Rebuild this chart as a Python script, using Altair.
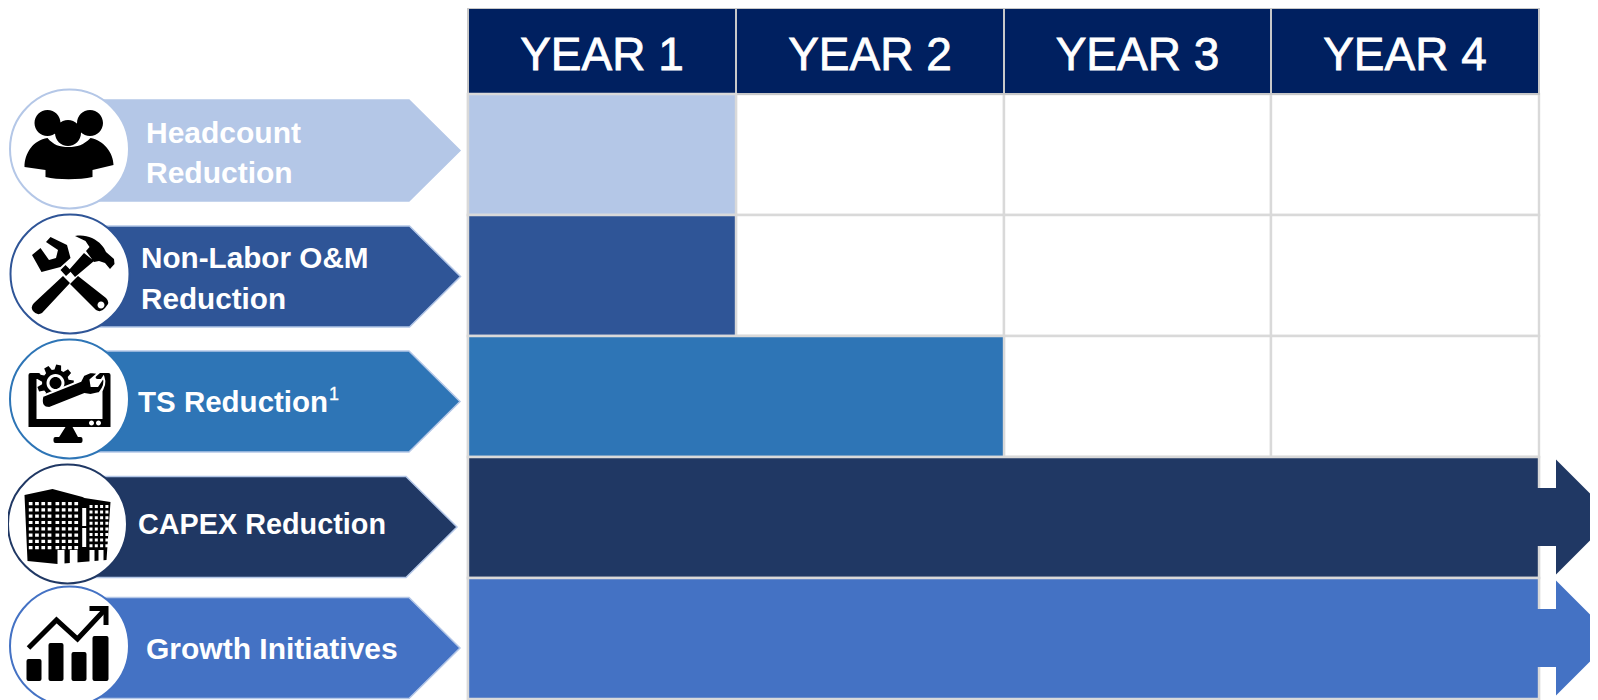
import math
import altair as alt
import pandas as pd

# ---- chart content ----
years = ["YEAR 1", "YEAR 2", "YEAR 3", "YEAR 4"]
categories = ["Headcount Reduction", "Non-Labor O&M Reduction", "TS Reduction",
              "CAPEX Reduction", "Growth Initiatives"]
label_lines = [["Headcount", "Reduction"], ["Non-Labor O&M", "Reduction"], ["TS Reduction"],
               ["CAPEX Reduction"], ["Growth Initiatives"]]
years_covered = [1, 1, 2, 4, 4]
continues = [False, False, False, True, True]
colors = ["#B4C7E7", "#2F5597", "#2E75B6", "#203864", "#4472C4"]

# ---- layout ----
FONT = "Liberation Sans"
col_x = [468, 736, 1004, 1271, 1539]
row_y = [94, 215, 336, 457, 578, 699]
HEAD_TOP = 8
circle_xy = [(69.5, 149), (70, 274), (69.5, 399), (67.5, 524), (69.5, 646)]
chev_anchor = [(69, 150.5), (69.5, 276.5), (69, 401.5), (66, 527), (69, 648)]
label_x = [146, 141, 138, 138, 146]
label_base = [[143, 183], [268, 309], [412], [534], [659]]
label_size = [30, 29.7, 29.5, 28.8, 30]

SX = alt.Scale(domain=[8, 1590], nice=False, zero=False)
SY = alt.Scale(domain=[700, 8], nice=False, zero=False)
X = alt.X("x:Q", axis=None, scale=SX)
Y = alt.Y("y:Q", axis=None, scale=SY)
X2 = alt.X2("x2:Q")
Y2 = alt.Y2("y2:Q")
cat_fill = alt.Fill("cat:N", legend=None, scale=alt.Scale(domain=categories, range=colors))
cat_stroke = alt.Stroke("cat:N", legend=None, scale=alt.Scale(domain=categories, range=colors))

layers = []

# table cells
cells = pd.DataFrame([
    {"x": col_x[c], "x2": col_x[c + 1], "y": row_y[r], "y2": row_y[r + 1]}
    for r in range(5) for c in range(4)
])
layers.append(alt.Chart(cells).mark_rect(fill="white", stroke="#D9D9D9", strokeWidth=2.4)
              .encode(x=X, x2=X2, y=Y, y2=Y2))

# header
head = pd.DataFrame({
    "x": col_x[:-1], "x2": col_x[1:], "y": [HEAD_TOP] * 4, "y2": [row_y[0]] * 4, "t": years,
    "xc": [(a + b) / 2 for a, b in zip(col_x[:-1], col_x[1:])], "yb": [70] * 4,
})
layers.append(alt.Chart(head).mark_rect(fill="#002060", stroke="#C8C8C8", strokeWidth=2)
              .encode(x=X, x2=X2, y=Y, y2=Y2))
layers.append(alt.Chart(head).mark_text(font=FONT, fontSize=46, color="white", align="center",
                                        baseline="alphabetic", stroke="white", strokeWidth=0.8)
              .encode(x=alt.X("xc:Q", axis=None, scale=SX), y=alt.Y("yb:Q", axis=None, scale=SY), text="t:N"))

# coverage bars
bars = pd.DataFrame({
    "cat": categories,
    "x": [col_x[0]] * 5,
    "x2": [col_x[n] for n in years_covered],
    "y": row_y[:-1],
    "y2": row_y[1:],
})
layers.append(alt.Chart(bars).mark_rect(stroke="#D9D9D9", strokeWidth=2.4)
              .encode(x=X, x2=X2, y=Y, y2=Y2, fill=cat_fill))

# continuation arrow heads
arrow_path = "M-3,-29 H17 V-57.5 L74.5,0 L17,57.5 V29 H-3 Z"
arrows = pd.DataFrame([
    {"cat": categories[i], "x": col_x[4], "y": (row_y[i] + row_y[i + 1]) / 2 - 0.5}
    for i in range(5) if continues[i]
])
layers.append(alt.Chart(arrows).mark_point(shape=arrow_path, size=4, filled=True, opacity=1, strokeWidth=0)
              .encode(x=X, y=Y, fill=cat_fill))

# chevrons
chev_path = "M0,-50.5 H340 L391,0 L340,50.5 H0 Z"
chev = pd.DataFrame({"cat": categories, "x": [a[0] for a in chev_anchor], "y": [a[1] for a in chev_anchor]})
layers.append(alt.Chart(chev).mark_point(shape=chev_path, size=4, filled=True, opacity=1,
                                         stroke="#B4C7E7", strokeWidth=1.5)
              .encode(x=X, y=Y, fill=cat_fill))

# circles
circ = pd.DataFrame({"cat": categories, "x": [a[0] for a in circle_xy], "y": [a[1] for a in circle_xy]})
layers.append(alt.Chart(circ).mark_point(shape="circle", size=119 ** 2, filled=True, opacity=1,
                                         fill="white", strokeWidth=2)
              .encode(x=X, y=Y, stroke=cat_stroke))

# labels
lab = pd.DataFrame([
    {"t": line, "x": label_x[i], "y": label_base[i][j], "fs": label_size[i]}
    for i, lines in enumerate(label_lines) for j, line in enumerate(lines)
])
layers.append(alt.Chart(lab).mark_text(font=FONT, fontWeight="bold", color="white", align="left",
                                       baseline="alphabetic")
              .encode(x=X, y=Y, text="t:N", size=alt.Size("fs:Q", scale=None)))
sup = pd.DataFrame({"t": ["1"], "x": [329], "y": [400]})
layers.append(alt.Chart(sup).mark_text(font=FONT, fontSize=18, color="white", align="left",
                                       baseline="alphabetic", stroke="white", strokeWidth=0.3)
              .encode(x=X, y=Y, text="t:N"))


# ---- icons: paths are relative to the circle centre, 1 unit = 1 px at size 4 ----
def ring(cx, cy, r):
    return f"M{cx - r},{cy} a{r},{r} 0 1,0 {2 * r},0 a{r},{r} 0 1,0 {-2 * r},0 Z "


def rect(x0, y0, x1, y1):
    return f"M{x0:.1f},{y0:.1f} H{x1:.1f} V{y1:.1f} H{x0:.1f} Z "


def rrect(x0, y0, x1, y1, r=2):
    return (f"M{x0 + r},{y0} H{x1 - r} Q{x1},{y0} {x1},{y0 + r} V{y1 - r} Q{x1},{y1} {x1 - r},{y1} "
            f"H{x0 + r} Q{x0},{y1} {x0},{y1 - r} V{y0 + r} Q{x0},{y0} {x0 + r},{y0} Z ")


def poly(*pts):
    return "M" + " L".join(f"{a},{b}" for a, b in pts) + " Z "


def gear(cx, cy, r0, r1, n):
    pts = []
    for k in range(n):
        a = 2 * math.pi * k / n
        w = math.pi / n * 0.55
        pts += [(a - w * 1.3, r0), (a - w * 0.7, r1), (a + w * 0.7, r1), (a + w * 1.3, r0)]
    return poly(*[(round(cx + r * math.cos(a), 1), round(cy + r * math.sin(a), 1)) for a, r in pts])


def icon(i, path, fill="black", stroke=None, sw=0, filled=True):
    d = pd.DataFrame({"x": [circle_xy[i][0]], "y": [circle_xy[i][1]]})
    kw = dict(shape=path, size=4, opacity=1, strokeWidth=sw, filled=filled)
    if filled:
        kw["fill"] = fill
    if stroke:
        kw["stroke"] = stroke
    layers.append(alt.Chart(d).mark_point(**kw).encode(x=X, y=Y))


# people
icon(0, ring(-22, -26, 13) + ring(20.5, -26, 13) + ring(-1.5, -16, 13) +
     "M-45,18 C-45,4 -36,-9 -22,-11 C-16,-4 -10,-2 -1,-2 C8,-2 14,-4 21,-11 C34,-9 44,4 44,16 "
     "L23,21 V28 C10,31 -12,31 -24,28 V21 Z")

# tools
icon(1, "M5,-38 C12,-39 17,-38 22,-36 C30,-32 34,-27 36,-22 L44,-15 L44.5,-10 L40,-5 L35,-11 L29,-13 L24,-12 "
        "L16,-23 L19.5,-27 L15.5,-33 Z "
        "M14,-21 L24,-13 L5,3 L-1,-4 Z "
        "M-7,2 L0,9 L-28,39 Q-33,42 -37,37 Q-40,33 -36,29 Z")
icon(1, "M-24,-32 L-19.5,-37 L-3,-29 L0.5,-16 L-9.5,-7 L-28.5,-2 L-38,-19 L-29.5,-26 L-21,-14 L-14,-16 L-12,-24 Z "
        "M-9.5,-4 L-4.5,-9 L1.5,-3 L-4,2 Z "
        "M8,2 L0,10 L26,36 Q31,39 35,34 L38,30 Q39,27 36,24 Z")
icon(1, ring(31, 31, 3.5), fill="white")

# monitor with gear and wrench
icon(2, rrect(-41, -26, -33, 28) + rrect(33, -26, 41, 28) + rect(-41, 20, 41, 28) +
     rrect(-41, -26, -29, -20) + rrect(26, -26, 41, -20) +
     poly((-4, 28), (3, 28), (9, 39), (-11, 39)) + rrect(-16, 38, 13, 44))
icon(2, gear(-14, -16, 13.5, 18.5, 9))
icon(2, ring(-14, -16, 9), fill="white")
icon(2, ring(-14, -16, 6))
icon(2, "M-27,-3 L11,-18 L14,-24 L21,-27 L29,-26 L21,-19 L22,-13 L28,-13 L34,-22 Q37,-14 30,-6 L21,-4 L15,-5 "
        "L-20,9 Q-30,9 -27,-3 Z",
     stroke="white", sw=2)
icon(2, ring(22, 24, 2.5) + ring(29, 24, 2.5), fill="white")

# building
icon(3, poly((-43, -29), (-15, -35), (15, -27), (17, -26), (43, -22), (39, 36), (-10, 40), (-40, 37)))
win = ""
for r_i in range(8):
    yy = -22 + r_i * 6.3
    for c_i in range(4):
        win += rect(-38.7 + c_i * 6.3, yy, -35 + c_i * 6.3, yy + 3.2)
        win += rect(-12 + c_i * 6.3, yy, -8.3 + c_i * 6.3, yy + 3.2)
for r_i in range(8):
    yy = -19 + r_i * 5.6
    for c_i in range(4):
        win += rect(22 + c_i * 5.3, yy, 25 + c_i * 5.3, yy + 3)
win += rect(14.7, -16, 18.7, 2) + rect(14.7, 4, 18.7, 23)
win += rect(-10, 26, -3, 41) + rect(2.3, 26, 10, 41) + rect(22, 26, 27, 39) + rect(31, 26, 36, 38)
icon(3, win, fill="white")

# growth
icon(4, rrect(-43, 13, -28, 35) + rrect(-21, -3, -6, 35) + rrect(2, 6, 17, 35) + rrect(23, -10, 39, 35))
icon(4, "M-41,2 L-13,-26 L8,-7 L36,-37", filled=False, stroke="black", sw=5)
icon(4, poly((20, -40), (39, -40), (39, -21), (34, -21), (34, -35), (20, -35)))

chart = alt.layer(*layers).properties(
    width=1582, height=692, padding=0, autosize=alt.AutoSizeParams(type="none"),
).configure_view(stroke=None)

chart.save("out.html", embed_options={"renderer": "svg", "actions": False})
